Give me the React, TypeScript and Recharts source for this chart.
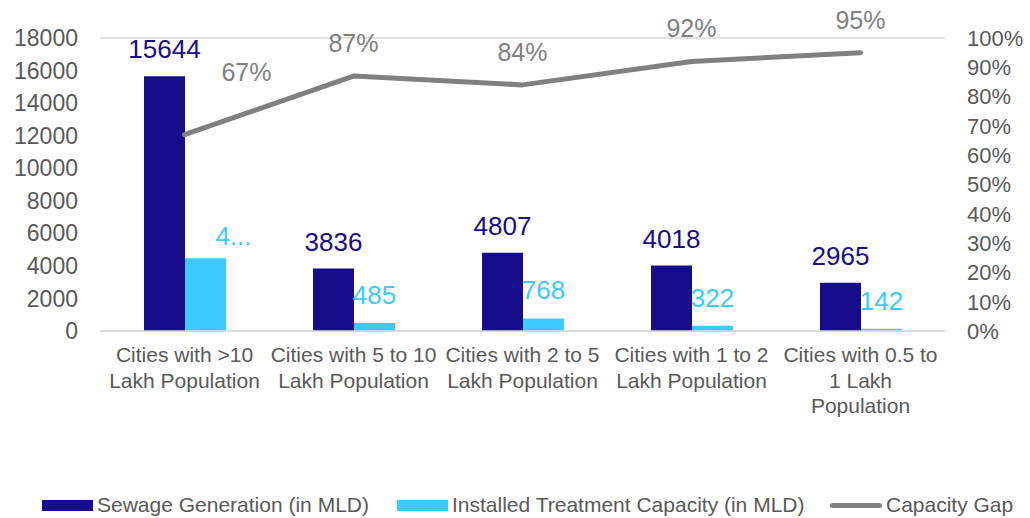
import { Bar, ComposedChart, LabelList, Line, CartesianGrid, XAxis, YAxis } from 'recharts';

const categories = [
    'Cities with >10\nLakh Population',
    'Cities with 5 to 10\nLakh Population',
    'Cities with 2 to 5\nLakh Population',
    'Cities with 1 to 2\nLakh Population',
    'Cities with 0.5 to\n1 Lakh\nPopulation',
];
const sewageGeneration = [15644, 3836, 4807, 4018, 2965];
const treatmentCapacity = [4470, 485, 768, 322, 142];
const capacityLabels = ['4...', '485', '768', '322', '142'];
const capacityGap = [0.67, 0.87, 0.84, 0.92, 0.95];
const leftTicks = [0, 2000, 4000, 6000, 8000, 10000, 12000, 14000, 16000, 18000];
const rightTicks = [0, 0.1, 0.2, 0.3, 0.4, 0.5, 0.6, 0.7, 0.8, 0.9, 1];

const DARK = '#170c8a';
const LIGHT = '#3ccbfe';
const GRAY = '#808080';
const TEXT = '#595959';
const FONT = '"Liberation Sans", Arial, sans-serif';

const data = categories.map((name, i) => ({
    name,
    sewage: sewageGeneration[i],
    capacity: treatmentCapacity[i],
    capLabel: capacityLabels[i],
    gap: capacityGap[i],
}));

function CategoryTick({ x, y, payload }: any) {
    const lines = String(payload.value).split('\n');
    return (
        <text x={x} y={y + 23} textAnchor="middle" fill={TEXT} fontSize={21} fontFamily={FONT}>
            {lines.map((l, i) => (
                <tspan key={i} x={x} dy={i === 0 ? 0 : 25.5}>{l}</tspan>
            ))}
        </text>
    );
}

function CapacityLabel({ x, y, width, index, value }: any) {
    const dx = index === 0 ? 28 : 0;
    return (
        <text x={x + width / 2 + dx} y={y - (index === 0 ? 13 : 19)} textAnchor="middle" fill={LIGHT} fontSize={26} fontFamily={FONT}>
            {value}
        </text>
    );
}

function GapLabel({ x, y, index, value }: any) {
    const first = index === 0;
    return (
        <text x={x + (first ? 62 : 0)} y={first ? y - 54 : y - 24} textAnchor="middle" fill={GRAY} fontSize={25} fontFamily={FONT}>
            {Math.round(value * 100) + '%'}
        </text>
    );
}

function LegendRow() {
    const item = { position: 'absolute' as const, top: 493, fontSize: 21, color: TEXT, fontFamily: FONT, lineHeight: '24px' };
    return (
        <>
            <div style={{ position: 'absolute', left: 42, top: 500, width: 51, height: 11, background: DARK }} />
            <div style={{ ...item, left: 97 }}>Sewage Generation (in MLD)</div>
            <div style={{ position: 'absolute', left: 397, top: 500, width: 51, height: 11, background: LIGHT }} />
            <div style={{ ...item, left: 452 }}>Installed Treatment Capacity (in MLD)</div>
            <div style={{ position: 'absolute', left: 830, top: 503, width: 52, height: 5, borderRadius: 3, background: GRAY }} />
            <div style={{ ...item, left: 886 }}>Capacity Gap</div>
        </>
    );
}

export default function App() {
    return (
        <div style={{ position: 'absolute', left: 0, top: 0, width: 1030, height: 518, background: '#fff' }}>
            <ComposedChart
                width={1030}
                height={518}
                data={data}
                margin={{ top: 38, right: 0, left: 0, bottom: 0 }}
                barGap={0}
            >
                <CartesianGrid vertical={false} stroke="#d9d9d9" strokeWidth={1.5} />
                <XAxis
                    dataKey="name"
                    height={187}
                    tick={<CategoryTick />}
                    tickLine={false}
                    axisLine={{ stroke: '#d9d9d9', strokeWidth: 1.5 }}
                    interval={0}
                />
                <YAxis
                    yAxisId="left"
                    width={100}
                    domain={[0, 18000]}
                    ticks={leftTicks}
                    interval={0}
                    tickLine={false}
                    axisLine={false}
                    tickMargin={16}
                    tick={{ fill: TEXT, fontSize: 23, fontFamily: FONT }}
                />
                <YAxis
                    yAxisId="right"
                    orientation="right"
                    width={85}
                    domain={[0, 1]}
                    ticks={rightTicks}
                    interval={0}
                    tickFormatter={(v: number) => Math.round(v * 100) + '%'}
                    tickLine={false}
                    axisLine={false}
                    tickMargin={16}
                    tick={{ fill: TEXT, fontSize: 22, fontFamily: FONT }}
                />
                <Bar yAxisId="left" dataKey="sewage" fill={DARK} barSize={41} isAnimationActive={false}>
                    <LabelList dataKey="sewage" position="top" offset={18} fill={DARK} fontSize={26} fontFamily={FONT} />
                </Bar>
                <Bar yAxisId="left" dataKey="capacity" fill={LIGHT} barSize={41} isAnimationActive={false}>
                    <LabelList dataKey="capLabel" content={<CapacityLabel />} />
                </Bar>
                <Line
                    yAxisId="right"
                    dataKey="gap"
                    stroke={GRAY}
                    strokeWidth={5}
                    strokeLinecap="round"
                    strokeLinejoin="round"
                    dot={false}
                    isAnimationActive={false}
                >
                    <LabelList dataKey="gap" content={<GapLabel />} />
                </Line>
            </ComposedChart>
            <LegendRow />
        </div>
    );
}
